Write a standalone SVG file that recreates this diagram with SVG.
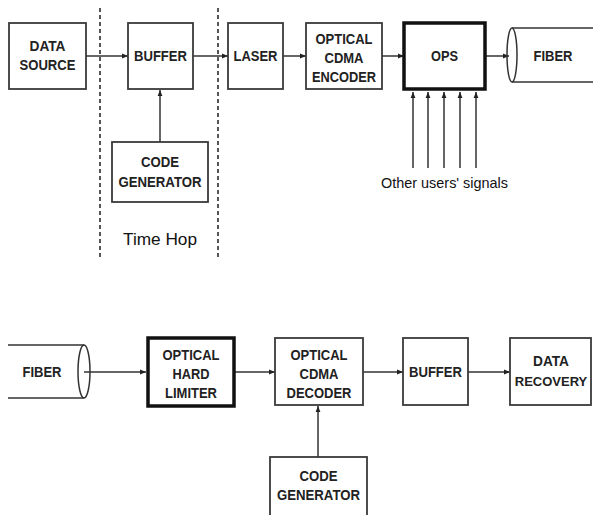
<svg xmlns="http://www.w3.org/2000/svg" width="593" height="515" viewBox="0 0 593 515">
<style>
.box{fill:#fff;stroke:#3a3a3a;stroke-width:1.8}
.thick{fill:#fff;stroke:#111;stroke-width:3.5}
.t{font-family:"Liberation Sans",Arial,sans-serif;font-weight:bold;font-size:15px;fill:#222;text-anchor:middle}
.r{font-family:"Liberation Sans",Arial,sans-serif;font-size:15px;fill:#111;text-anchor:middle}
.ln{stroke:#333;stroke-width:1.5;fill:none}
.dash{stroke:#444;stroke-width:1.8;stroke-dasharray:4 3;fill:none}
</style>
<defs>
<marker id="ah" viewBox="0 0 10 10" refX="10" refY="5" markerWidth="6" markerHeight="6" markerUnits="userSpaceOnUse" orient="auto">
<path d="M0,1 L10,5 L0,9 Z" fill="#222"/>
</marker>
</defs>
<rect width="593" height="515" fill="#fff"/>
<g id="timehop">
<line class="dash" x1="100" y1="8" x2="100" y2="258"/>
<line class="dash" x1="218" y1="8" x2="218" y2="258"/>
<text class="r" x="160" y="245" style="font-size:16px" textLength="74" lengthAdjust="spacingAndGlyphs">Time Hop</text>
</g>
<g id="connectors">
<line class="ln" x1="86" y1="56" x2="128" y2="56" marker-end="url(#ah)"/>
<line class="ln" x1="193" y1="56" x2="228" y2="56" marker-end="url(#ah)"/>
<line class="ln" x1="283" y1="56" x2="306" y2="56" marker-end="url(#ah)"/>
<line class="ln" x1="382" y1="56" x2="404" y2="56" marker-end="url(#ah)"/>
<line class="ln" x1="485" y1="56" x2="509" y2="56" marker-end="url(#ah)"/>
<line class="ln" x1="160" y1="142" x2="160" y2="90" marker-end="url(#ah)"/>
<line class="ln" x1="413" y1="168" x2="413" y2="92" marker-end="url(#ah)"/>
<line class="ln" x1="428" y1="168" x2="428" y2="92" marker-end="url(#ah)"/>
<line class="ln" x1="444" y1="168" x2="444" y2="92" marker-end="url(#ah)"/>
<line class="ln" x1="460" y1="168" x2="460" y2="92" marker-end="url(#ah)"/>
<line class="ln" x1="476" y1="168" x2="476" y2="92" marker-end="url(#ah)"/>
<line class="ln" x1="84" y1="372" x2="146" y2="372" marker-end="url(#ah)"/>
<line class="ln" x1="234" y1="372" x2="275" y2="372" marker-end="url(#ah)"/>
<line class="ln" x1="363" y1="372" x2="403" y2="372" marker-end="url(#ah)"/>
<line class="ln" x1="468" y1="372" x2="510" y2="372" marker-end="url(#ah)"/>
<line class="ln" x1="318" y1="457" x2="318" y2="406" marker-end="url(#ah)"/>
</g>
<g id="data-source">
<rect class="box" x="9" y="23" width="77" height="66"/>
<text class="t" x="47.5" y="51" textLength="36" lengthAdjust="spacingAndGlyphs">DATA</text>
<text class="t" x="47.5" y="70" textLength="56" lengthAdjust="spacingAndGlyphs">SOURCE</text>
</g>
<g id="buffer-tx">
<rect class="box" x="128" y="23" width="65" height="66"/>
<text class="t" x="160.5" y="61" textLength="53" lengthAdjust="spacingAndGlyphs">BUFFER</text>
</g>
<g id="code-gen-tx">
<rect class="box" x="112" y="142" width="96" height="60"/>
<text class="t" x="160" y="167" textLength="38" lengthAdjust="spacingAndGlyphs">CODE</text>
<text class="t" x="160" y="187" textLength="83" lengthAdjust="spacingAndGlyphs">GENERATOR</text>
</g>
<g id="laser">
<rect class="box" x="228" y="23" width="55" height="66"/>
<text class="t" x="255.5" y="61" textLength="44" lengthAdjust="spacingAndGlyphs">LASER</text>
</g>
<g id="encoder">
<rect class="box" x="306" y="23" width="76" height="66"/>
<text class="t" x="344" y="44" textLength="57" lengthAdjust="spacingAndGlyphs">OPTICAL</text>
<text class="t" x="344" y="63" textLength="39" lengthAdjust="spacingAndGlyphs">CDMA</text>
<text class="t" x="344" y="82" textLength="64" lengthAdjust="spacingAndGlyphs">ENCODER</text>
</g>
<g id="ops">
<rect class="thick" x="404" y="23" width="81" height="66"/>
<text class="t" x="444.5" y="61" textLength="27" lengthAdjust="spacingAndGlyphs">OPS</text>
</g>
<g id="fiber-tx">
<line class="ln" x1="512" y1="28" x2="595" y2="28"/>
<line class="ln" x1="512" y1="82" x2="595" y2="82"/>
<ellipse class="ln" cx="512" cy="55" rx="5" ry="27"/>
<text class="t" x="553" y="61" textLength="39" lengthAdjust="spacingAndGlyphs">FIBER</text>
</g>
<g id="other-users">
<text class="r" x="444.5" y="188" textLength="127" lengthAdjust="spacingAndGlyphs">Other users' signals</text>
</g>
<g id="fiber-rx">
<line class="ln" x1="8" y1="345" x2="84" y2="345"/>
<line class="ln" x1="8" y1="398" x2="84" y2="398"/>
<ellipse class="ln" cx="84" cy="371.5" rx="6" ry="26.5"/>
<text class="t" x="42" y="377" textLength="39" lengthAdjust="spacingAndGlyphs">FIBER</text>
</g>
<g id="hard-limiter">
<rect class="thick" x="148" y="338" width="86" height="68"/>
<text class="t" x="191" y="360" textLength="57" lengthAdjust="spacingAndGlyphs">OPTICAL</text>
<text class="t" x="191" y="379" textLength="37" lengthAdjust="spacingAndGlyphs">HARD</text>
<text class="t" x="191" y="398" textLength="52" lengthAdjust="spacingAndGlyphs">LIMITER</text>
</g>
<g id="decoder">
<rect class="box" x="275" y="338" width="88" height="67"/>
<text class="t" x="319" y="360" textLength="57" lengthAdjust="spacingAndGlyphs">OPTICAL</text>
<text class="t" x="319" y="379" textLength="39" lengthAdjust="spacingAndGlyphs">CDMA</text>
<text class="t" x="319" y="398" textLength="65" lengthAdjust="spacingAndGlyphs">DECODER</text>
</g>
<g id="buffer-rx">
<rect class="box" x="403" y="338" width="65" height="67"/>
<text class="t" x="435.5" y="377" textLength="53" lengthAdjust="spacingAndGlyphs">BUFFER</text>
</g>
<g id="data-recovery">
<rect class="box" x="510" y="338" width="81" height="67"/>
<text class="t" x="551" y="366" textLength="36" lengthAdjust="spacingAndGlyphs">DATA</text>
<text class="t" x="551" y="386" style="font-size:13px">RECOVERY</text>
</g>
<g id="code-gen-rx">
<rect class="box" x="270" y="457" width="97" height="70"/>
<text class="t" x="318.5" y="481" textLength="38" lengthAdjust="spacingAndGlyphs">CODE</text>
<text class="t" x="318.5" y="500" textLength="83" lengthAdjust="spacingAndGlyphs">GENERATOR</text>
</g>
</svg>
